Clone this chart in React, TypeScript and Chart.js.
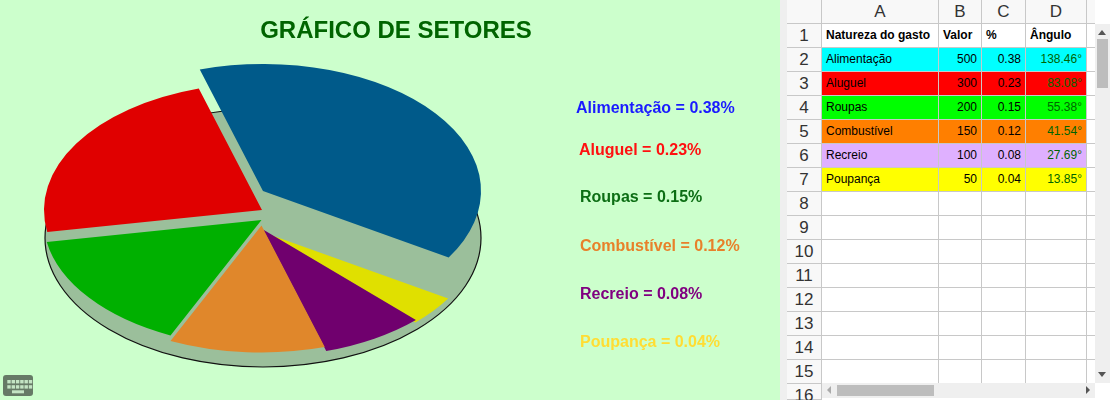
import React, { useEffect, useRef } from "react";
import { Chart, registerables } from "chart.js";

Chart.register(...registerables);

const categories = ["Alimentação", "Aluguel", "Roupas", "Combustível", "Recreio", "Poupança"];
const valores = [500, 300, 200, 150, 100, 50];
const percentuais = ["0.38", "0.23", "0.15", "0.12", "0.08", "0.04"];
const angulos = ["138.46°", "83.08°", "55.38°", "41.54°", "27.69°", "13.85°"];

const sliceColors = ["#005a8a", "#e00000", "#00b000", "#e0872b", "#70006e", "#e0e000"];
const labelColors = ["#1a1aff", "#ff1010", "#0c6e14", "#e8802a", "#800080", "#ffdd33"];
const cellColors = ["#00ffff", "#ff0000", "#00ff00", "#ff7f00", "#dfb0ff", "#ffff00"];
const rowNumbers = ["1", "2", "3", "4", "5", "6", "7", "8", "9", "10", "11", "12", "13", "14", "15", "16"];
const columnNames = ["A", "B", "C", "D"];
const headers = ["Natureza do gasto", "Valor", "%", "Ângulo"];

// layout of the drawing
const SLICE_CENTERS = [[263, 191], [262, 210], [261.5, 220], [261.5, 225.5], [263, 229.5], [262.5, 232]];
const RX = 218;
const RY = 127;
const LABEL_POS = [[576, 113], [579, 155], [580, 202], [580, 251], [580, 299], [580, 347]];

const FONT = '"Liberation Sans", Arial, sans-serif';

const piePlugin = {
  id: "tiltedPie",
  beforeDatasetsDraw(chart: any) {
    const ctx = chart.ctx;
    ctx.save();
    ctx.beginPath();
    ctx.ellipse(263, 238, 218, 129, 0, 0, Math.PI * 2);
    ctx.fillStyle = "#9bbf9b";
    ctx.fill();
    ctx.lineWidth = 1.2;
    ctx.strokeStyle = "#111";
    ctx.stroke();
    ctx.restore();
  },
  beforeDatasetDraw(chart: any) {
    const ctx = chart.ctx;
    const arcs = chart.getDatasetMeta(0).data;
    for (let i = arcs.length - 1; i >= 0; i--) {
      const arc = arcs[i];
      const [cx, cy] = SLICE_CENTERS[i];
      ctx.save();
      ctx.translate(cx, cy);
      // slices run anticlockwise in the picture, so the pie is mirrored
      ctx.scale(-RX / arc.outerRadius, RY / arc.outerRadius);
      ctx.translate(-arc.x, -arc.y);
      arc.draw(ctx);
      ctx.restore();
    }
    return false;
  },
  afterDraw(chart: any) {
    const ctx = chart.ctx;
    ctx.save();
    ctx.textBaseline = "alphabetic";
    ctx.textAlign = "center";
    ctx.font = `bold 24px ${FONT}`;
    ctx.fillStyle = "#006400";
    ctx.fillText("GRÁFICO DE SETORES", 396, 38);
    ctx.textAlign = "left";
    ctx.font = `bold 16px ${FONT}`;
    categories.forEach((c, i) => {
      ctx.fillStyle = labelColors[i];
      ctx.fillText(`${c} = ${percentuais[i]}%`, LABEL_POS[i][0], LABEL_POS[i][1]);
    });
    ctx.restore();
  },
};

const colLines = [822, 939, 982, 1026, 1087, 1095];
const rowLine = (i: number) => 24 + 24 * i; // top of row index i (0 = row 1)
const GRID = "#c8c8c8";

function box(left: number, top: number, width: number, height: number, background: string, extra: any = {}) {
  return { position: "absolute", left, top, width, height, background, boxSizing: "border-box", ...extra } as any;
}

function Triangle({ x, y, dir }: { x: number; y: number; dir: string }) {
  const pts: Record<string, string> = {
    up: `${x - 4},${y + 3} ${x + 4},${y + 3} ${x},${y - 2}`,
    down: `${x - 4},${y - 2} ${x + 4},${y - 2} ${x},${y + 3}`,
    left: `${x + 2},${y - 4} ${x + 2},${y + 4} ${x - 2},${y}`,
    right: `${x - 2},${y - 4} ${x - 2},${y + 4} ${x + 2},${y}`,
  };
  return <polygon points={pts[dir]} fill={dir === "left" ? "#aaa" : "#555"} />;
}

export default function App() {
  const ref = useRef<HTMLCanvasElement>(null);
  useEffect(() => {
    document.body.style.margin = "0";
    const chart = new Chart(ref.current as HTMLCanvasElement, {
      type: "pie",
      data: {
        labels: categories,
        datasets: [{ data: valores, backgroundColor: sliceColors, borderWidth: 0 }],
      },
      options: {
        animation: false,
        responsive: false,
        rotation: -121.6,
        plugins: { legend: { display: false }, tooltip: { enabled: false } },
      },
      plugins: [piePlugin as any],
    } as any);
    return () => chart.destroy();
  }, []);

  const cells: React.ReactNode[] = [];
  // column headers
  columnNames.forEach((c, i) => {
    cells.push(
      <div key={`h${c}`} style={box(colLines[i], 0, colLines[i + 1] - colLines[i], 24, "#f8f8f8", {
        borderRight: `1px solid ${GRID}`, borderBottom: `1px solid ${GRID}`, textAlign: "center", font: `17px ${FONT}`, lineHeight: "23px", color: "#333",
      })}>{c}</div>
    );
  });
  cells.push(<div key="hE" style={box(1087, 0, 8, 24, "#f8f8f8", { borderBottom: `1px solid ${GRID}` })} />);
  cells.push(<div key="corner" style={box(787, 0, 35, 24, "#f8f8f8", { borderRight: `1px solid ${GRID}`, borderBottom: `1px solid ${GRID}` })} />);
  // row headers and cells
  rowNumbers.forEach((n, r) => {
    const top = rowLine(r);
    const h = r === 15 ? 400 - top : 24;
    cells.push(
      <div key={`r${n}`} style={box(787, top, 35, h, "#f8f8f8", {
        borderRight: `1px solid ${GRID}`, borderBottom: `1px solid ${GRID}`, textAlign: "center", font: `17px ${FONT}`, lineHeight: "23px", color: "#333",
      })}>{n}</div>
    );
    if (r === 15) return;
    const idx = r - 1;
    const isData = idx >= 0 && idx < categories.length;
    const bg = isData ? cellColors[idx] : "#fff";
    const texts = r === 0 ? headers : isData ? [categories[idx], String(valores[idx]), percentuais[idx], angulos[idx]] : ["", "", "", ""];
    texts.forEach((t, c) => {
      const numeric = r > 0 && c > 0;
      cells.push(
        <div key={`c${r}-${c}`} style={box(colLines[c], top, colLines[c + 1] - colLines[c], 24, r === 0 ? "#fff" : bg, {
          borderRight: `1px solid ${GRID}`, borderBottom: `1px solid ${GRID}`,
          font: `${r === 0 ? "bold " : ""}12px ${FONT}`, lineHeight: "23px", whiteSpace: "nowrap", overflow: "hidden",
          paddingLeft: numeric ? 0 : 4, paddingRight: numeric ? 4 : 0,
          textAlign: numeric ? "right" : "left", color: c === 3 && r > 0 ? "#006400" : "#000",
        })}>{t}</div>
      );
    });
    cells.push(<div key={`e${r}`} style={box(1087, top, 8, 24, "#fff", { borderBottom: `1px solid ${GRID}` })} />);
  });

  return (
    <div style={{ position: "absolute", left: 0, top: 0, width: 1112, height: 400, overflow: "hidden", background: "#fff" }}>
      <div style={{ position: "absolute", left: 0, top: 0, width: 780, height: 400, background: "#ccffcc" }}>
        <canvas ref={ref} width={780} height={400} style={{ display: "block", width: 780, height: 400 }} />
      </div>
      <div style={box(780, 0, 7, 400, "#efefef")} />
      {cells}
      <div style={box(1095, 24, 15, 359, "#efefef")} />
      <div style={box(1097, 39, 11, 49, "#bdbdbd")} />
      <div style={box(822, 383, 273, 15, "#efefef")} />
      <div style={box(837, 385, 97, 11, "#bdbdbd")} />
      <svg width={1112} height={400} style={{ position: "absolute", left: 0, top: 0, pointerEvents: "none" }}>
        <Triangle x={1102} y={32} dir="up" />
        <Triangle x={1102} y={374} dir="down" />
        <Triangle x={829} y={390} dir="left" />
        <Triangle x={1088} y={390} dir="right" />
        <rect x={3} y={375} width={30} height={21} rx={3} fill="#667a66" />
        {[0, 1, 2, 3, 4, 5].map((i) => (
          <rect key={`a${i}`} x={7.3 + i * 4.3} y={380} width={3.4} height={3.4} fill="#c4e4c4" />
        ))}
        {[0, 1, 2, 3, 4, 5].map((i) => (
          <rect key={`b${i}`} x={7.3 + i * 4.3} y={385.2} width={3.4} height={3.4} fill="#c4e4c4" />
        ))}
        <rect x={12} y={390.3} width={12} height={3} fill="#c4e4c4" />
      </svg>
    </div>
  );
}
